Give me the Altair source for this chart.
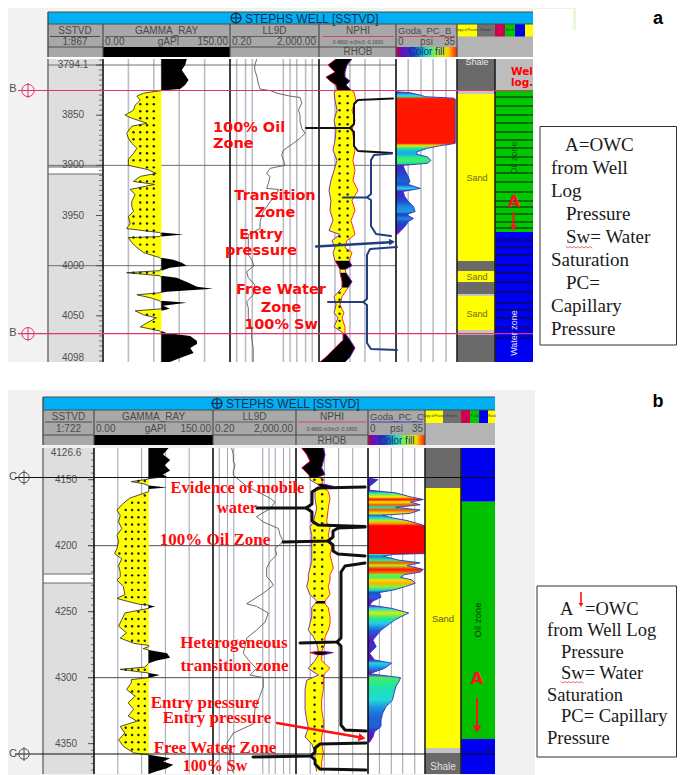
import altair as alt
import numpy as np
import pandas as pd

# ---------- values ----------
GR_A_DEPTH = [3794,3800,3805,3810,3815,3820,3824,3825.5,3826.4,3828,3831,3835,3840,3845,3850,3853,3858,3861,3868,3873,3878,3883,3888,3894,3900,3904,3908,3911,3916,3919,3924,3929,3936,3941,3946,3951,3958,3963,3967,3969,3971,3972,3977,3982,3987,3992,3994,3997,4000,4002,4005,4007,4010,4012,4017,4021,4023,4026,4027,4029,4032,4035,4037,4040,4043,4045,4049,4052,4057,4061,4065,4067,4070,4075,4078,4082,4087,4092,4096]
GR_A_API = [99,97,93,97,101,97,91,69,61,48,40,44,38,36,26,34,52,34,28,30,34,40,36,30,30,52,63,44,36,61,32,38,34,34,36,30,32,28,67,95,67,30,34,40,48,67,83,93,99,79,67,28,67,87,101,111,130,75,67,40,56,67,99,71,79,38,48,63,52,44,67,75,103,111,111,103,107,91,79]
LL_A_DEPTH = [3794,3800,3805,3811,3818,3824,3825.4,3828,3831,3832.4,3838,3845,3850,3856,3863,3868,3873,3878,3885,3890,3894.5,3900,3903,3908,3911,3918,3923,3924,3929,3936,3946,3956,3963,3969,3979,3989,3994,4000,4006,4012,4019,4029,4036,4042,4052,4062,4072,4082,4096]
LL_A_RES = [3.2,2.6,2.6,3.2,3.7,4.5,12.6,25,100,282,335,237,282,282,335,470,282,141,50,42,50,59,12.6,8.9,12.6,10.6,8.9,30,25,13,6.3,4.5,4.5,1.33,1.33,1.33,1.88,2.4,1.12,1.33,2.6,2.2,1.12,1.33,1.33,1.88,1.88,2.2,2.2]
NP_A_DEPTH = [3794,3800,3807,3812,3816,3820,3825,3827,3835,3845,3855,3865,3875,3885,3895,3905,3915,3925,3935,3945,3955,3965,3969,3975,3982,3987,3995,4000,4004,4007,4016,4022,4031,4039,4047,4052,4061,4067,4074,4082,4091,4096]
NP_A_LEFT = [.341,.411,.35,.428,.393,.341,.332,.358,.35,.332,.358,.341,.35,.367,.332,.358,.385,.402,.385,.393,.367,.402,.306,.376,.35,.367,.35,.324,.306,.306,.289,.289,.358,.341,.358,.324,.358,.28,.28,.35,.428,.48]
NP_A_RIGHT = [.202,.246,.263,.263,.22,.254,.211,.185,.168,.202,.176,.202,.185,.176,.194,.176,.194,.15,.202,.176,.211,.185,.176,.246,.263,.202,.228,.202,.263,.254,.202,.237,.289,.306,.272,.289,.263,.263,.22,.176,.22,.263]
NP_A_ZONE = list("kkkkkkk" + "yyyyyyyyyyyyyyyyyyyy" + "kk" + "y" + "kk" + "yyyyyy" + "kkkk")
PC_A_DEPTH = [3826.6,3827.6,3830,3831.6,3833,3834,3878,3879,3880.5,3883,3886.5,3889,3891.5,3895,3898,3900,3904.5,3911,3916,3919,3923,3926,3931,3936,3941,3946,3949,3953,3956,3959,3963,3969]
PC_A_PSI = [0,8,14,17,33,34,34,31,25,18,12,12,18,20,18,4,5,7,8,7,14,4,5,7,10,11,6,10,7,6,4,0.6]

GR_B_DEPTH = [4126,4131,4135,4139,4143,4146,4148,4149.5,4151.5,4153,4154.5,4156,4157,4159,4164,4169,4173,4177,4182,4187,4192,4197,4202,4206,4210,4215,4220,4223.5,4226,4231,4237,4240,4242,4244.5,4245,4246,4247.5,4251,4256,4261,4266,4270,4274,4275.6,4276.5,4278,4279,4281.6,4285,4287,4289,4292,4293.7,4296.5,4298,4300,4301.5,4304,4309,4314,4319,4324,4329,4333,4337,4342,4347,4352,4357,4358.5,4361,4363.6,4366,4368.6,4371,4373]
GR_B_API = [94,87,96,89,96,87,92,69,47,62,69,92,69,69,45,35,29,33,31,35,29,31,29,26,35,31,33,33,29,37,39,29,41,58,69,77,69,39,35,31,41,33,50,69,69,62,69,92,96,79,69,64,33,69,83,69,47,47,41,52,43,50,43,54,33,39,31,37,50,69,96,87,100,92,79,69]
LL_B_DEPTH = [4126,4131,4136,4139,4144,4146.5,4155,4164,4167,4172,4178,4182,4187,4192,4197,4202,4207,4212,4217,4223.5,4226,4230,4236,4244,4246,4251,4258,4264,4270,4276.5,4281.6,4288,4293,4298,4300,4307,4314,4324,4335,4342,4350,4357,4365,4372]
LL_B_RES = [1.58,1.9,1.9,2.3,1.9,1.9,8.4,112,196,112,25,53,284,342,496,196,236,112,77,77,112,163,53,8.4,25,93,64,25,8.4,6.9,5.8,12,25,12,53,53,36,21,17.6,1.9,0.91,1.32,1.32,1.9]
NP_B_DEPTH = [4126,4131,4136,4141,4146,4148,4150,4153,4155,4157,4159,4164,4172,4182,4186,4192,4197,4202,4207,4212,4217,4222,4226,4231,4237,4242,4244,4247,4254,4259,4264,4269,4274,4280,4281,4283,4287,4293,4298,4302,4309,4317,4324,4332,4338,4345,4350,4357,4364,4371]
NP_B_LEFT = [.428,.382,.352,.428,.367,.352,.352,.291,.26,.26,.306,.306,.291,.321,.352,.336,.336,.336,.336,.336,.352,.367,.367,.382,.352,.291,.306,.336,.336,.352,.367,.321,.291,.275,.352,.275,.306,.367,.275,.382,.397,.397,.397,.382,.367,.397,.336,.306,.306,.291]
NP_B_RIGHT = [.229,.214,.229,.245,.214,.275,.229,.245,.138,.214,.184,.168,.184,.199,.168,.184,.168,.153,.168,.153,.138,.168,.168,.184,.168,.214,.214,.184,.168,.168,.184,.214,.214,.245,.138,.245,.245,.168,.229,.229,.229,.245,.245,.229,.229,.245,.245,.229,.245,.245]
NP_B_ZONE = list("kkkkkk" + "yy" + "kk" + "yyyyyyyyyyyyyyyy" + "k" + "yyyyyyy" + "kk" + "yyyyyyyyyyyyyyy")
PC_B_DEPTH = [4149,4150,4153,4155,4158,4159,4160,4163,4165,4167,4169,4171,4173,4175.5,4177,4179,4181,4183,4185,4187,4206,4206.6,4208,4211,4213,4215,4218,4220,4222,4224,4226,4228.5,4231,4233.5,4235.5,4239,4242,4245,4247.5,4251,4254,4256,4259,4264,4271.5,4276.5,4281.6,4286.6,4289,4293,4297,4300,4303,4307,4312,4317,4322,4327,4332,4337,4341,4345,4349]
PC_B_PSI = [1,6,3,1,1,9,17,26,34,26,32,17,32,26,9,15,24,30,35,35,35,15.5,9.4,19,32,24,34,32,22,20,27,29,23,16,7,8,3,1,14.5,25,20,17,13.5,8,3,5,1,4,14.5,10,1,20,19,17,16,15,11,9,8,8,4,3,1]

DEPTH_LABELS_A = [3794.1, 3850, 3900, 3950, 4000, 4050, 4098]
DEPTH_LABELS_B = [4126.6, 4150, 4200, 4250, 4300, 4350]
GR_GRID = [30, 60, 90, 120]
LL_GRID = [0.4, 1, 2, 50, 100, 200, 500, 1000]
NP_GRID = [0.35, 0.22, 0.09, -0.04]
PC_GRID = [7, 14.3, 21.3, 28.7]
GR_CUT = 69

LEGEND_A = [("A=OWC",565,145),("from Well",551,168),("Log",551,191),("Pressure",566,214),("Sw= Water",566,237),
            ("Saturation",551,260),("PC=",566,283),("Capillary",551,306),("Pressure",551,329)]
LEGEND_B = [("A",560,609),("=OWC",585,609),("from Well Log",547,630),("Pressure",561,652),("Sw= Water",561,673),
            ("Saturation",547,695),("PC= Capillary",561,716),("Pressure",547,738)]

# ---------- page frame ----------
W, H = 669, 767
PX = alt.Scale(domain=[8, 8 + W], range=[0, W])
PY = alt.Scale(domain=[8, 8 + H], range=[0, H])
layers = []
texts = []

def qx(f, s): return alt.X(f"{f}:Q", scale=s, axis=None, title=None)
def qy(f, s): return alt.Y(f"{f}:Q", scale=s, axis=None, title=None)

def rects(rows):
    df = pd.DataFrame(rows, columns=["x0", "x1", "y0", "y1", "c"])
    layers.append(alt.Chart(df).mark_rect(opacity=1).encode(
        x=qx("x0", PX), x2=alt.X2("x1"), y=qy("y0", PY), y2=alt.Y2("y1"),
        color=alt.Color("c:N", scale=None)))

def segs(rows):
    df = pd.DataFrame(rows, columns=["x0", "y0", "x1", "y1", "c", "w"])
    layers.append(alt.Chart(df).mark_rule().encode(
        x=qx("x0", PX), x2=alt.X2("x1"), y=qy("y0", PY), y2=alt.Y2("y1"),
        color=alt.Color("c:N", scale=None), strokeWidth=alt.StrokeWidth("w:Q", scale=None)))

def poly(points, color, w):
    df = pd.DataFrame(points, columns=["x", "y"])
    df["i"] = range(len(df))
    layers.append(alt.Chart(df).mark_line(color=color, strokeWidth=w, strokeJoin="round", strokeCap="round", opacity=1).encode(
        x=qx("x", PX), y=qy("y", PY), order=alt.Order("i:Q")))

def marker(x, y, shape, size, color, angle=0, filled=True, w=1):
    df = pd.DataFrame({"x": [x], "y": [y]})
    layers.append(alt.Chart(df).mark_point(shape=shape, size=size, filled=filled, opacity=1, color=color,
                                           strokeWidth=w, angle=angle).encode(x=qx("x", PX), y=qy("y", PY)))

def T(x, y, s, size=10, color="#4a4a4a", font="Liberation Sans", weight="normal", align="center", angle=0):
    texts.append(dict(x=x, y=y, s=s, size=size, c=color, font=font, weight=weight, align=align, a=angle))

def flush_texts():
    df = pd.DataFrame(texts)
    for (font, weight, align), g in df.groupby(["font", "weight", "align"]):
        layers.append(alt.Chart(g.reset_index(drop=True)).mark_text(font=font, fontWeight=weight, align=align, baseline="middle").encode(
            x=qx("x", PX), y=qy("y", PY), text=alt.Text("s:N"),
            size=alt.Size("size:Q", scale=None), color=alt.Color("c:N", scale=None), angle=alt.Angle("a:Q", scale=None)))
    texts.clear()

ANCH = [(0,"#8a00c0"),(3,"#5a18c8"),(6,"#1f3fc8"),(10,"#1c86e0"),(14,"#22d4ee"),(18,"#20e890"),(22,"#70f040"),(26,"#f0f000"),(30,"#ffa000"),(33.5,"#ff2000"),(35,"#ff0000")]
def cmap(v):
    xs = [a[0] for a in ANCH]
    rgb = np.array([[int(a[1][i:i+2], 16) for i in (1, 3, 5)] for a in ANCH])
    return "#%02x%02x%02x" % tuple(int(round(np.interp(v, xs, rgb[:, k]))) for k in range(3))

def panel(cfg):
    xs, ys = cfg["x"], cfg["y"]
    t0, t1 = ys["track"]
    dom = cfg["depth"]
    DY = alt.Scale(domain=dom, range=[t0 - 8, t1 - 8])
    def sx(key, domain, **kw):
        return alt.Scale(domain=domain, range=[xs[key][0] - 8, xs[key][1] - 8], **kw)
    GX = sx("gr", [0, 150])
    LX = sx("ll", [0.2, 2000], type="log", base=10)
    NX = sx("np", [0.48, -0.18])
    CX = sx("pc", [0, 35])
    HD, HD2, DARK = "#a8a8a8", "#b4b4b4", "#4c4c4c"
    L, R = xs["sst"][0], xs["fl"][1]

    # frame: title bar, header rows, tracks
    rects([(L, R, ys["bar"][0], ys["bar"][1], "#00b0f4"),
           (L, R, ys["r1"][0], ys["r3"][1], HD),
           (xs["li"][0], R, ys["r2"][0], ys["r3"][1], HD2),
           (xs["gr"][0], xs["gr"][1], ys["r3"][0], ys["r3"][1], "#000000"),
           (L, xs["sst"][1], t0, t1, "#dedede"),
           (xs["gr"][0], xs["pc"][1], t0, t1, "#ffffff"),
           (L, xs["sst"][1], cfg["gap"][0], cfg["gap"][1], "#ffffff")])
    # facies legend swatches
    rects(cfg["swatch"])
    # colour-fill swatch
    stops = [alt.GradientStop(offset=o, color=c) for o, c in [(0,"#c00040"),(0.1,"#6010c0"),(0.3,"#1f3fc8"),(0.5,"#20e0b0"),(0.7,"#b0f020"),(0.85,"#ffd000"),(1,"#ff2000")]]
    layers.append(alt.Chart(pd.DataFrame({"x0":[xs["pc"][0]],"x1":[xs["pc"][1]],"y0":[ys["r3"][0]],"y1":[ys["r3"][1]]})).mark_rect(
        color=alt.Gradient(gradient="linear", stops=stops, x1=0, x2=1, y1=0, y2=0), opacity=1).encode(
        x=qx("x0", PX), x2=alt.X2("x1"), y=qy("y0", PY), y2=alt.Y2("y1")))

    # vertical grid lines through library scales
    gw, gc = cfg["grid_w"], cfg["grid_c"]
    for vals, sc in [(GR_GRID, GX), (LL_GRID, LX), (NP_GRID, NX), (PC_GRID, CX)]:
        layers.append(alt.Chart(pd.DataFrame({"v": vals})).mark_rule(color=gc, strokeWidth=gw).encode(
            x=qx("v", sc), y=alt.value(t0 - 8), y2=alt.value(t1 - 8)))

    # horizontal depth lines
    layers.append(alt.Chart(pd.DataFrame({"d": cfg["hlines"]})).mark_rule(color=cfg["hc"], strokeWidth=1).encode(
        y=qy("d", DY), x=alt.value(cfg["hx"][0] - 8), x2=alt.value(cfg["hx"][1] - 8)))

    # gamma ray fills, curve
    g = pd.DataFrame({"d": cfg["gr_d"], "v": cfg["gr_v"]})
    g["lo"] = g.v.clip(upper=GR_CUT); g["hi"] = g.v.clip(lower=GR_CUT); g["cut"] = GR_CUT
    layers.append(alt.Chart(g).mark_area(orient="horizontal", color="#ffff00", opacity=1).encode(
        x=qx("lo", GX), x2=alt.X2("cut"), y=qy("d", DY)))
    layers.append(alt.Chart(g).mark_area(orient="horizontal", color="#000000", opacity=1).encode(
        x=qx("cut", GX), x2=alt.X2("hi"), y=qy("d", DY)))
    layers.append(alt.Chart(g).mark_line(color="#202020", strokeWidth=0.8).encode(
        x=qx("lo", GX), y=qy("d", DY), order=alt.Order("d:Q")))
    # sand dots on gamma
    dots = []
    for d in np.arange(dom[0] + 3, dom[1], cfg["dot_step"]):
        v = np.interp(d, cfg["gr_d"], cfg["gr_v"])
        for col in cfg["dot_cols"]:
            if v + 3 < col < GR_CUT - 1:
                dots.append((d, col))
    layers.append(alt.Chart(pd.DataFrame(dots, columns=["d", "v"])).mark_point(shape="circle", filled=True, size=6, color="#202020", opacity=1).encode(
        x=qx("v", GX), y=qy("d", DY)))

    # resistivity
    ll = pd.DataFrame({"d": cfg["ll_d"], "v": cfg["ll_v"]})
    layers.append(alt.Chart(ll).mark_line(color="#5a5a5a", strokeWidth=0.9).encode(
        x=qx("v", LX), y=qy("d", DY), order=alt.Order("d:Q")))

    # NPHI / RHOB crossover, split into zones
    seg_rows, s, prev = [], 0, None
    for i, (d, l, r, z) in enumerate(zip(cfg["np_d"], cfg["np_l"], cfg["np_r"], cfg["np_z"])):
        if prev is not None and z != prev[3]:
            s += 1
            seg_rows.append((s, prev[0], prev[1], prev[2], z))
        seg_rows.append((s, d, l, r, z))
        prev = (d, l, r, z)
    n = pd.DataFrame(seg_rows, columns=["seg", "d", "l", "r", "z"])
    n["fill"] = n.z.map({"k": "#000000", "y": "#ffff00"})
    n["cl"] = n.z.map({"k": "#e01040", "y": "#8030c0"})
    n["cr"] = n.z.map({"k": "#7020b0", "y": "#ff2a2a"})
    layers.append(alt.Chart(n).mark_area(orient="horizontal", opacity=1).encode(
        x=qx("l", NX), x2=alt.X2("r"), y=qy("d", DY), color=alt.Color("fill:N", scale=None),
        detail="seg:N"))
    layers.append(alt.Chart(n).mark_line(strokeWidth=1).encode(
        x=qx("l", NX), y=qy("d", DY), color=alt.Color("cl:N", scale=None), detail="seg:N", order=alt.Order("d:Q")))
    layers.append(alt.Chart(n).mark_line(strokeWidth=1).encode(
        x=qx("r", NX), y=qy("d", DY), color=alt.Color("cr:N", scale=None), detail="seg:N", order=alt.Order("d:Q")))
    nd = []
    for d in np.arange(dom[0] + 2, dom[1], cfg["np_dot"]):
        if n[n.d <= d].empty: continue
        z = n[n.d <= d].iloc[-1].z
        lv = np.interp(d, cfg["np_d"], cfg["np_l"]); rv = np.interp(d, cfg["np_d"], cfg["np_r"])
        if z == "y":
            for c in [0.31, 0.24]:
                if rv + 0.01 < c < lv - 0.01:
                    nd.append((d, c))
    layers.append(alt.Chart(pd.DataFrame(nd, columns=["d", "v"])).mark_point(shape="circle", filled=True, size=6, color="#202020", opacity=1).encode(
        x=qx("v", NX), y=qy("d", DY)))

    # capillary pressure with colour fill
    p = pd.DataFrame({"d": cfg["pc_d"], "v": cfg["pc_v"]}); p["z"] = 0
    span = p.d.max() - p.d.min()
    pst = [alt.GradientStop(offset=float((d - p.d.min()) / span), color=cmap(v)) for d, v in zip(p.d, p.v)]
    layers.append(alt.Chart(p).mark_area(orient="horizontal", opacity=1,
        color=alt.Gradient(gradient="linear", stops=pst, x1=0, x2=0, y1=0, y2=1)).encode(
        x=qx("z", CX), x2=alt.X2("v"), y=qy("d", DY)))
    layers.append(alt.Chart(p).mark_line(color="#2a30c8", strokeWidth=0.9).encode(
        x=qx("v", CX), y=qy("d", DY), order=alt.Order("d:Q")))

    # lithology and fluid columns
    rects(cfg["columns"])
    if cfg["bars"]:
        segs([(xs["fl"][0], y, xs["fl"][1], y, "#101010", 1) for y in cfg["bars"]])

    # depth ticks
    tk = pd.DataFrame({"d": list(range(int(np.ceil(dom[0] / 5)) * 5, int(dom[1]), 5))})
    layers.append(alt.Chart(tk).mark_rule(color="#555555", strokeWidth=0.8).encode(
        y=qy("d", DY), x=alt.value(xs["sst"][1] - 3 - 8), x2=alt.value(xs["sst"][1] - 8)))
    tk2 = pd.DataFrame({"d": cfg["major"]})
    layers.append(alt.Chart(tk2).mark_rule(color="#555555", strokeWidth=1).encode(
        y=qy("d", DY), x=alt.value(xs["sst"][1] - 6 - 8), x2=alt.value(xs["sst"][1] - 8)))
    lab = pd.DataFrame({"d": cfg["lab_d"], "s": cfg["lab_s"]})
    layers.append(alt.Chart(lab).mark_text(font="Liberation Sans", fontSize=10, color="#505050", align="center", baseline="middle").encode(
        y=qy("d", DY), x=alt.value(cfg["lab_x"] - 8), text="s:N"))

    # frame lines
    fl = []
    for x in [xs["gr"][0], xs["gr"][1], xs["ll"][1], xs["np"][1]]:
        fl.append((x, ys["r1"][0], x, ys["r3"][1], DARK, 1.2))
        fl.append((x, t0, x, t1, "#101010", 1.6))
    fl += [(xs["pc"][1], ys["r1"][0], xs["pc"][1], ys["r3"][1], DARK, 1.2),
           (xs["pc"][1], t0, xs["pc"][1], t1, "#202020", 1.6),
           (xs["fl"][0], t0, xs["fl"][0], t1, "#202020", 1.6),
           (L, ys["bar"][0], R, ys["bar"][0], DARK, 1),
           (L, ys["bar"][0], L, ys["r3"][1], DARK, 1.4),
           (L, t0, L, t1, "#6a6a6a", 1.4),
           (L, ys["bar"][1], R, ys["bar"][1], DARK, 1),
           (L, ys["r3"][0], xs["gr"][0], ys["r3"][0], DARK, 1),
           (xs["ll"][0], ys["r3"][0], xs["pc"][0], ys["r3"][0], DARK, 1),
           (L, cfg["gap"][0], xs["sst"][1], cfg["gap"][0], "#6a6a6a", 1),
           (L, cfg["gap"][1], xs["sst"][1], cfg["gap"][1], "#6a6a6a", 1),
           (L + 2, ys["r2"][0], xs["sst"][1] - 2, ys["r2"][0], DARK, 1),
           (xs["gr"][0] + 2, ys["r2"][0], xs["gr"][1] - 2, ys["r2"][0], DARK, 0.8),
           (xs["ll"][0] + 2, ys["r2"][0], xs["ll"][1] - 2, ys["r2"][0], DARK, 0.8),
           (xs["np"][0] + 2, ys["r2"][0], xs["np"][1] - 2, ys["r2"][0], "#d84070", 1),
           (xs["pc"][0] + 2, ys["r2"][0], xs["pc"][1] - 2, ys["r2"][0], cfg["pc_rule"], 1)]
    segs(fl)

    # header text
    r1, r2, r3 = cfg["ty"]
    mid = lambda k: (xs[k][0] + xs[k][1]) / 2
    T(mid("sst"), r1, "SSTVD"); T(mid("sst"), r2, cfg["ratio"])
    T(mid("gr"), r1, "GAMMA_RAY")
    T(xs["gr"][0] + 2, r2, "0.00", align="left"); T(mid("gr") + 2, r2, "gAPI"); T(xs["gr"][1] - 2, r2, "150.00", align="right")
    T(mid("ll"), r1, "LL9D")
    T(xs["ll"][0] + 2, r2, "0.20", align="left"); T(xs["ll"][1] - 3, r2, "2,000.00", align="right")
    T(mid("np"), r1, "NPHI"); T(mid("np"), r2, "0.4800 m3/m3 -0.1800", size=5); T(mid("np"), r3, "RHOB")
    T(xs["pc"][0] + 2, r1, cfg["pc_name"], size=9.5, align="left")
    T(xs["pc"][0] + 2, r2, "0", align="left"); T(mid("pc"), r2, "psi"); T(xs["pc"][1] - 2, r2, "35", align="right")
    T(mid("pc"), r3, "Color fill", size=10, color="#10308a")
    T(cfg["title_x"], (ys["bar"][0] + ys["bar"][1]) / 2 + 0.5, "STEPHS WELL [SSTVD]", size=12, color="#14304e", align="left")
    cx = cfg["title_x"] - 9; cy = (ys["bar"][0] + ys["bar"][1]) / 2
    marker(cx, cy, "circle", 95, "#14304e", filled=False, w=1.3)
    segs([(cx - 5.5, cy, cx + 5.5, cy, "#14304e", 1.2), (cx, cy - 5.5, cx, cy + 5.5, "#14304e", 1.2)])
    for x, w in cfg["tiny"]:
        T(x, (ys["r1"][0] + ys["r2"][0]) / 2, w, size=3.5, color="#303030")

# ---------- panel a ----------
YEL, GRY, LG, GRN, BLU = "#ffff00", "#6a6a6a", "#c4c4c4", "#00c800", "#0000f0"
rects([(3, 48, 8, 362, "#f2f2f2"), (48, 533, 8, 12, "#f2f2f2"), (533, 576, 8, 30, "#ffffff"), (573, 576, 8, 30, "#e8f9d8"), (8, 573, 8, 9, "#e8f9d8"),
       (0, 535, 390, 775, "#f1f1f1")])

panel(dict(
    x=dict(sst=(48,102), gr=(103,230), ll=(230,319), np=(320,396), pc=(396,457), li=(457,495), fl=(495,533)),
    y=dict(bar=(12,24), r1=(24,57), r2=(36.5,47), r3=(47,57), track=(59,362)),
    ty=(30.5,42,52), depth=[3794,4096], gap=(167,174), ratio="1:867", pc_name="Goda_PC_B", pc_rule="#d84070",
    grid_w=1.6, grid_c="#bcbcc6", hlines=[3800,3900,4000], hc="#707070", hx=(48,396), title_x=245,
    gr_d=GR_A_DEPTH, gr_v=GR_A_API, ll_d=LL_A_DEPTH, ll_v=LL_A_RES,
    np_d=NP_A_DEPTH, np_l=NP_A_LEFT, np_r=NP_A_RIGHT, np_z=NP_A_ZONE, pc_d=PC_A_DEPTH, pc_v=PC_A_PSI,
    dot_step=7, dot_cols=[28,36,44,52,60], np_dot=7,
    major=[3800,3850,3900,3950,4000,4050], lab_x=73,
    lab_d=[3799.5,3850,3900,3950,4000,4050,4092], lab_s=[str(v) for v in DEPTH_LABELS_A],
    swatch=[(457,477,24,36.5,YEL),(477,495,24,36.5,"#707070"),(495,505,24,36.5,"#d00050"),(505,515,24,36.5,GRN),(515,525,24,36.5,BLU),(525,533,24,36.5,YEL)],
    columns=[(457,495,59,90,GRY),(457,495,90,94,LG),(457,495,94,261,YEL),(457,495,261,271,GRY),(457,495,271,282,YEL),(457,495,282,294,GRY),
             (457,495,294,296,LG),(457,495,296,330,YEL),(457,495,330,335,LG),(457,495,335,362,GRY),
             (495,533,59,91,"#bdbdbd"),(495,533,91,232,GRN),(495,533,232,362,BLU)],
    bars=[97,106,115,123,132,140,148,157,165,173,182,192,201,207,214,222,228,240,247,255,265,273,282,292,303,310,318,328,338],
    tiny=[(467,"Copy of Facies"),(486,"Facies"),(510,"Rock"),(520,"Rock")],
))
T(477, 62, "Shale", size=9, color="#e8e8e8")
T(477, 178, "Sand", size=9, color="#6a6a20"); T(477, 276.5, "Sand", size=9, color="#6a6a20"); T(477, 313.5, "Sand", size=9, color="#6a6a20")
T(511, 72, "Well", size=10.5, color="#ff0000", font="DejaVu Sans", weight="bold", align="left")
T(511, 83, "log.", size=10.5, color="#ff0000", font="DejaVu Sans", weight="bold", align="left")
T(514, 158, "Oil zone", size=9, color="#0a5a0a", angle=270)
T(514, 333, "Water zone", size=9, color="#e0e0ff", angle=270)
T(514, 202, "A", size=16, color="#ff1020", font="DejaVu Sans", weight="bold")
segs([(18,90.5,533,90.5,"#e0356b",1.2),(18,333.7,533,333.7,"#e0356b",1.2),(28,83,28,98,"#e0356b",1),(28,327,28,341,"#e0356b",1)])
marker(28, 90.5, "circle", 150, "#e0356b", filled=False, w=1)
marker(28, 333.7, "circle", 150, "#e0356b", filled=False, w=1)
T(13, 89, "B", size=11, color="#505050"); T(13, 333, "B", size=11, color="#505050")
# brackets a
K = "#101010"; NV = "#1f3f80"
poly([(306,128),(350,128),(354,124),(354,104),(358,100),(393,98.5)], K, 2)
poly([(320,128),(350,128),(354,132),(354,146),(358,151),(392,153)], K, 2)
poly([(343,197.5),(367,197.5),(371,194),(371,160),(374,155),(392,153.5)], NV, 2)
poly([(367,197.5),(371,200),(371,226),(376,234),(391,236)], NV, 2)
poly([(316,246.5),(390,242.2)], NV, 2.4)
marker(392, 242, "triangle-up", 45, NV, angle=87)
poly([(328,302),(363,302),(367,299),(367,255),(370,249),(397,247)], NV, 2)
poly([(363,302),(367,305),(367,343),(371,349),(397,350)], NV, 2)
RT = dict(color="#ff0a0a", font="DejaVu Sans", weight="bold")
T(213, 128, "100% Oil", size=14.5, align="left", **RT); T(213, 144, "Zone", size=14.5, align="left", **RT)
T(275, 196, "Transition", size=14.5, **RT); T(275, 213, "Zone", size=14.5, **RT)
T(261, 235, "Entry", size=14.5, **RT); T(261, 251, "pressure", size=14.5, **RT)
T(281, 290, "Free Water", size=14.5, **RT); T(281, 308, "Zone", size=14.5, **RT); T(281, 325, "100% Sw", size=14.5, **RT)
segs([(513.5,212,513.5,226,"#ff1020",2)])
marker(513.5, 228, "triangle-down", 45, "#ff1020")
flush_texts()

# ---------- panel b ----------
panel(dict(
    x=dict(sst=(43,94), gr=(94,213), ll=(213,296), np=(296,368), pc=(368,425), li=(425,461), fl=(461,495)),
    y=dict(bar=(397,410), r1=(410,445), r2=(422,435), r3=(435,445), track=(448,774)),
    ty=(417,429,441), depth=[4126,4373], gap=(574,583), ratio="1:722", pc_name="Goda_PC_C", pc_rule="#3040c0",
    grid_w=1.1, grid_c="#a8a8b8", hlines=[4200,4300], hc="#505050", hx=(88,368), title_x=226,
    gr_d=GR_B_DEPTH, gr_v=GR_B_API, ll_d=LL_B_DEPTH, ll_v=LL_B_RES,
    np_d=NP_B_DEPTH, np_l=NP_B_LEFT, np_r=NP_B_RIGHT, np_z=NP_B_ZONE, pc_d=PC_B_DEPTH, pc_v=PC_B_PSI,
    dot_step=5.5, dot_cols=[32,40,48,56,64], np_dot=5.5,
    major=[4150,4200,4250,4300,4350], lab_x=66,
    lab_d=[4130,4150,4200,4250,4300,4350], lab_s=[str(v) for v in DEPTH_LABELS_B],
    swatch=[(425,443,410,423,YEL),(443,461,410,423,"#707070"),(461,470,410,423,"#d00050"),(470,479,410,423,GRN),(479,488,410,423,BLU),(488,495,410,423,YEL)],
    columns=[(425,461,448,488,GRY),(425,461,488,748,YEL),(425,461,748,755,LG),(425,461,755,759,GRY),(425,461,759,774,GRY),
             (461,495,448,501.7,BLU),(461,495,501.7,739,"#00c000"),(461,495,739,774,BLU)],
    bars=[],
    tiny=[(434,"Copy of Facies"),(452,"Facies"),(475,"Rock"),(492,"Rock")],
))
T(443, 619, "Sand", size=9.5, color="#5a5a20"); T(443, 767, "Shale", size=10, color="#e0e0e0")
T(478, 620, "Oil zone", size=9.5, color="#0a3a0a", angle=270)
T(477, 679, "A", size=16, color="#ff1020", font="DejaVu Sans", weight="bold")
T(490, 750, "Rs", size=6, color="#101060"); T(492, 472, "R", size=6, color="#101060")
segs([(477,698,477,725,"#ff1020",2),(15,477.5,495,477.5,"#101010",1.1),(15,754,495,754,"#101010",1.1),(24,470,24,485,"#505050",1),(24,747,24,761,"#505050",1)])
marker(477, 729, "triangle-down", 80, "#ff1020")
marker(24, 477.5, "circle", 110, "#505050", filled=False, w=1)
marker(24, 754, "circle", 110, "#505050", filled=False, w=1)
T(13, 477, "C", size=11, color="#505050"); T(13, 754, "C", size=11, color="#505050")
# brackets b
poly([(257,508),(306,508),(312,504),(312,492),(318,488),(365,487)], K, 3)
poly([(306,508),(312,512),(312,521),(318,525),(365,526.5)], K, 3)
poly([(283,542),(328,541),(333,537),(333,531),(338,528),(365,527)], K, 3)
poly([(328,541),(333,545),(333,551),(338,554),(365,556)], K, 3)
poly([(300,643),(337,642),(341,638),(341,572),(345,566),(365,563)], K, 3)
poly([(337,642),(341,646),(341,725),(345,730),(366,731)], K, 3)
poly([(253,757),(311,756),(315,752),(315,748),(320,744),(366,743)], K, 3)
poly([(311,756),(315,760),(315,764),(320,769),(366,770)], K, 3)
poly([(277,723),(358,737)], "#ff1010", 2.4)
marker(362, 737.8, "triangle-up", 70, "#ff1010", angle=100)
RS = dict(color="#ff0a0a", font="Liberation Serif", weight="bold")
T(237.5, 488, "Evidence of mobile", size=16.5, **RS); T(237, 508, "water", size=16.5, **RS)
T(215, 540, "100% Oil Zone", size=17, **RS)
T(234, 643, "Heterogeneous", size=17, **RS); T(234.5, 665.5, "transition zone", size=17, **RS)
T(205, 702.5, "Entry pressure", size=17, **RS); T(217, 717.5, "Entry pressure", size=17, **RS)
T(215, 747.5, "Free Water Zone", size=17, **RS); T(215, 766, "100% Sw", size=16, **RS)
flush_texts()

# clip the log title at the picture's edge, then the text boxes
rects([(533,575,60,95,"#ffffff"),(540,678,126.5,345,"#ffffff"),(537,676.5,586,757,"#ffffff")])
BX = "#303030"
segs([(540,126.5,676.5,126.5,BX,1),(540,345,676.5,345,BX,1),(540,126.5,540,345,BX,1),(676.5,126.5,676.5,345,BX,1),
      (537,586,676.5,586,BX,1),(537,757,676.5,757,BX,1),(537,586,537,757,BX,1),(676.5,586,676.5,757,BX,1)])
for s, x, y in LEGEND_A: T(x, y, s, size=19, color="#1a1a1a", font="Liberation Serif", align="left")
for s, x, y in LEGEND_B: T(x, y, s, size=18.5, color="#1a1a1a", font="Liberation Serif", align="left")
poly([(566 + i * 2, 246.5 + (i % 2) * 1.5) for i in range(14)], "#e03030", 0.7)
poly([(561 + i * 2, 681.5 + (i % 2) * 1.5) for i in range(12)], "#e03030", 0.7)
segs([(581,592,581,603,"#ff1010",1.6)])
marker(581, 605, "triangle-down", 22, "#ff1010")
T(658, 19, "a", size=18, color="#000000", weight="bold"); T(658, 402, "b", size=18, color="#000000", weight="bold")
flush_texts()

chart = alt.layer(*layers).resolve_scale(x="independent", y="independent", color="independent").properties(
    width=W, height=H, padding=0, autosize=alt.AutoSizeParams(type="none"), background="#ffffff"
).configure_view(stroke=None)
chart.save("out.html", embed_options={"renderer": "svg", "actions": False})
